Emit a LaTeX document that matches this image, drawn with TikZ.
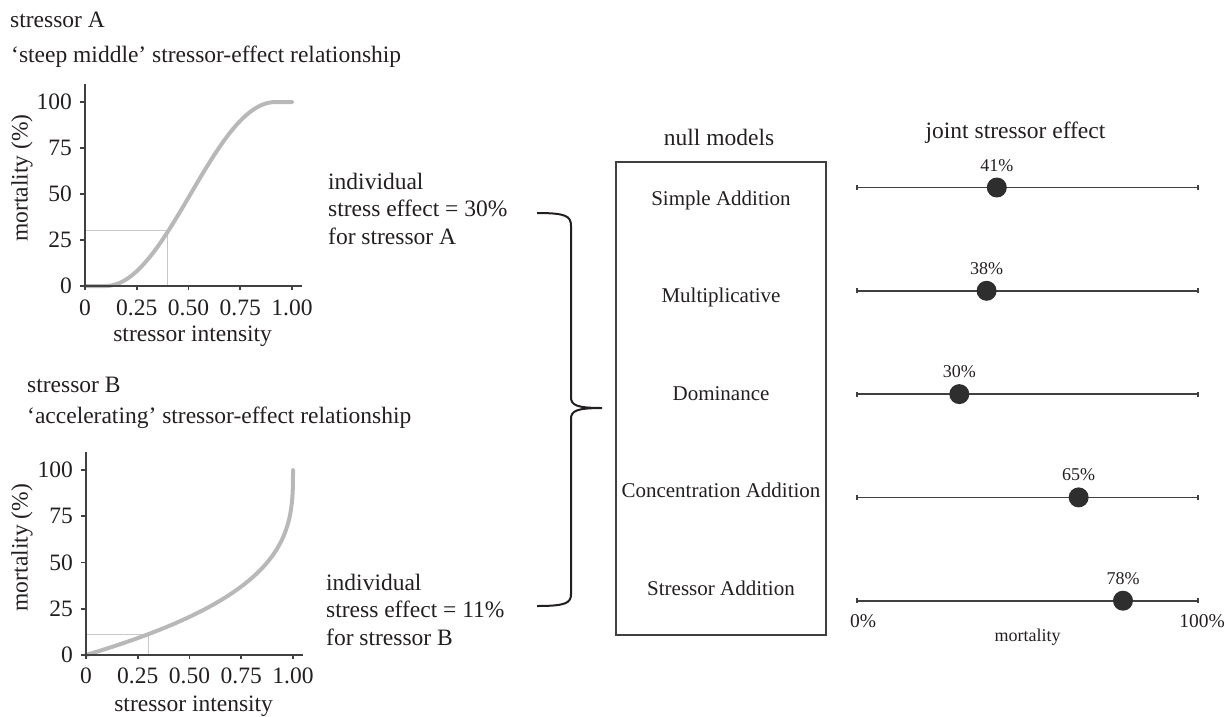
\documentclass[tikz,border=0pt]{standalone}
\usepackage{fontspec}
\setmainfont{Liberation Serif}
\usepackage{tikz}
\usetikzlibrary{calc, positioning}
\definecolor{inkgray}{HTML}{231F20}
\definecolor{axisgray}{HTML}{404040}
\definecolor{curvegray}{HTML}{B8B8B8}
\definecolor{guidegray}{HTML}{C8C8C8}
\definecolor{dotgray}{HTML}{2E2E2E}
\tikzset{
    txt/.style={font=\fontsize{23.5}{27.5}\selectfont, text=inkgray, inner sep=0pt},
    modelname/.style={font=\fontsize{21}{24}\selectfont, text=inkgray, inner sep=0pt, anchor=base},
    pct/.style={font=\fontsize{18}{20}\selectfont, text=inkgray, inner sep=0pt, anchor=base},
    scalelbl/.style={font=\fontsize{19.5}{22}\selectfont, text=inkgray, inner sep=0pt, anchor=base},
    axis/.style={draw=axisgray, line width=1.6pt},
    curve/.style={draw=curvegray, line width=4pt, line cap=round},
    guide/.style={draw=guidegray, line width=1.2pt},
    brace/.style={draw=inkgray, line width=2pt},
    bar/.style={draw=axisgray, line width=1.8pt},
    dot/.style={circle, fill=dotgray, minimum size=20pt, inner sep=0pt},
    modelbox/.style={rectangle, draw=axisgray, line width=1.6pt, minimum width=210pt, minimum height=473pt}
}

\begin{document}
\begin{tikzpicture}[x=1pt, y=-1pt]
    \useasboundingbox (0,0) rectangle (1230,716);

    % stressor A
    \node[txt, anchor=base west] (titleA) at (10,27) {stressor A};
    \node[txt, anchor=base west] (relA) at (11,62) {`steep middle' stressor-effect relationship};
    \begin{scope}[shift={(85,286)}, x=207pt, y=1.84pt]
        \draw[guide] (0,30) -- (0.4,30) -- (0.4,0);
        \draw[curve] (0,0) -- (0.1,0) -- plot[domain=0.1:0.92, samples=40] (\x, {50*(1-cos(180*(\x-0.1)/0.82))}) -- (1,100);
        \draw[axis] (-0.025,0) -- (1.05,0);
        \draw[axis] (0,0) -- (0,110);
        \foreach \t/\txt in {0/0, 0.25/0.25, 0.5/0.50, 0.75/0.75, 1/1.00} {
            \draw[axis] (\t,0) -- ++(0,-4pt);
            \node[txt, anchor=base] at ([yshift=-29pt]\t,0) {\txt};
        }
        \foreach \v in {0,25,50,75,100} {
            \draw[axis] (0,\v) -- ++(-5pt,0);
            \node[txt, anchor=east] at ([xshift=-13pt]0,\v) {\v};
        }
        \node[txt, anchor=base] (xlabA) at ([yshift=-55pt]0.52,0) {stressor intensity};
        \node[txt, rotate=90] (ylabA) at ([xshift=-63pt]0,58.7) {mortality (\%)};
    \end{scope}

    % stressor B
    \node[txt, anchor=base west] (titleB) at (27,392) {stressor B};
    \node[txt, anchor=base west] (relB) at (27,423) {`accelerating' stressor-effect relationship};
    \begin{scope}[shift={(86,655)}, x=207pt, y=1.85pt]
        \draw[guide] (0,11) -- (0.3,11) -- (0.3,0);
        \draw[curve] plot[domain=0:1, samples=60, variable=\t] ({1-(1-\t)*(1-\t)*(1-\t)}, {100*\t});
        \draw[axis] (-0.025,0) -- (1.05,0);
        \draw[axis] (0,0) -- (0,110);
        \foreach \t/\txt in {0/0, 0.25/0.25, 0.5/0.50, 0.75/0.75, 1/1.00} {
            \draw[axis] (\t,0) -- ++(0,-4pt);
            \node[txt, anchor=base] at ([yshift=-28pt]\t,0) {\txt};
        }
        \foreach \v in {0,25,50,75,100} {
            \draw[axis] (0,\v) -- ++(-5pt,0);
            \node[txt, anchor=east] at ([xshift=-13pt]0,\v) {\v};
        }
        \node[txt, anchor=base] (xlabB) at ([yshift=-56pt]0.52,0) {stressor intensity};
        \node[txt, rotate=90] (ylabB) at ([xshift=-64pt]0,58) {mortality (\%)};
    \end{scope}

    % individual effects and brace
    \node[txt, anchor=base west, align=left] (effA) at (328,244) {individual\\stress effect = 30\%\\for stressor A};
    \node[txt, anchor=base west, align=left] (effB) at (326,645) {individual\\stress effect = 11\%\\for stressor B};
    \coordinate (braceTop) at (537,213);
    \coordinate (braceTip) at (602,408);
    \coordinate (braceBot) at (537,606);
    \draw[brace] (braceTop) .. controls (566,213) and (571,216) .. (571,226) -- (571,397)
        .. controls (571,405) and (576,408) .. (braceTip)
        .. controls (576,408) and (571,411) .. (571,419) -- (571,594)
        .. controls (571,603) and (566,606) .. (braceBot);

    % null models
    \node[txt, anchor=base] (modelsTitle) at (719,145) {null models};
    \node[modelbox] (models) at (721,398.5) {};
    \node[txt, anchor=base] (jointTitle) at (1015.5,138) {joint stressor effect};
    \foreach \name/\val [count=\i from 0] in {Simple Addition/41, Multiplicative/38, Dominance/30, Concentration Addition/65, Stressor Addition/78} {
        \pgfmathsetmacro{\ry}{187.5+103.3*\i}
        \pgfmathsetmacro{\pfrac}{\val/100}
        \node[modelname] (model\i) at (721,205+97.5*\i) {\name};
        \coordinate (barL\i) at (857,\ry);
        \coordinate (barR\i) at (1198,\ry);
        \draw[bar] (barL\i) -- (barR\i);
        \draw[bar] ([yshift=-2.5pt]barL\i) -- ([yshift=2.5pt]barL\i);
        \draw[bar] ([yshift=-2.5pt]barR\i) -- ([yshift=2.5pt]barR\i);
        \node[dot] (dot\i) at ($(barL\i)!\pfrac!(barR\i)$) {};
        \node[pct] (pct\i) at ([yshift=16.5pt]dot\i.center) {\val\%};
    }
    \node[scalelbl] (zeroLbl) at ([xshift=6pt, yshift=-26.5pt]barL4) {0\%};
    \node[scalelbl] (fullLbl) at ([xshift=4pt, yshift=-26.5pt]barR4) {100\%};
    \node[pct] (mortLbl) at ([yshift=-40.5pt]$(barL4)!0.5!(barR4)$) {mortality};
\end{tikzpicture}
\end{document}
